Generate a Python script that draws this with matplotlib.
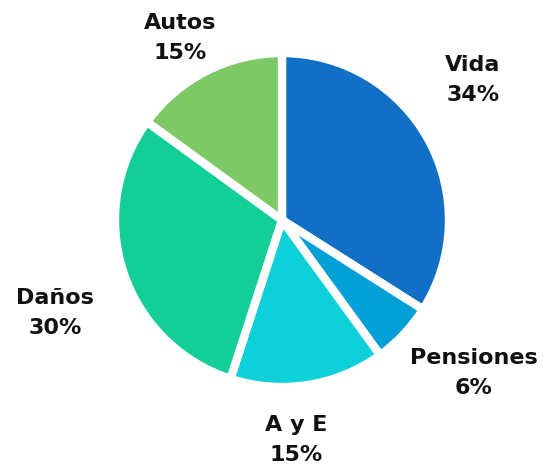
import matplotlib
matplotlib.use("Agg")
import matplotlib.pyplot as plt

# ── Data ──────────────────────────────────────────────────────────────────────
categories = ["Vida", "Pensiones", "A y E", "Daños", "Autos"]
shares     = [34, 6, 15, 30, 15]
colors     = ["#1170C5", "#02A0D6", "#0DD0D8", "#13CE96", "#7DC965"]

# label centres in pixel space (layout only)
label_pos  = [(473, 80), (474, 373), (296, 440), (55, 313), (180, 38)]

W, H = 543, 466
CX, CY, R = 282, 220, 167

plt.rcParams["font.family"] = ["DejaVu Sans"]

fig = plt.figure(figsize=(W / 100, H / 100), dpi=100)
ax = fig.add_axes([0, 0, 1, 1])

ax.pie(shares, colors=colors, startangle=90, counterclock=False,
       center=(CX, H - CY), radius=R, frame=True,
       wedgeprops=dict(edgecolor="white", linewidth=6, joinstyle="miter"))
ax.set_xlim(0, W)
ax.set_ylim(0, H)
ax.set_aspect("equal")
ax.axis("off")

for name, val, (x, y) in zip(categories, shares, label_pos):
    ax.text(x, H - y, f"{name}\n{val}%", ha="center", va="center",
            fontsize=16, fontweight="bold", color="#111111",
            linespacing=1.6)

fig.savefig("out.png", dpi=100, facecolor="white")
